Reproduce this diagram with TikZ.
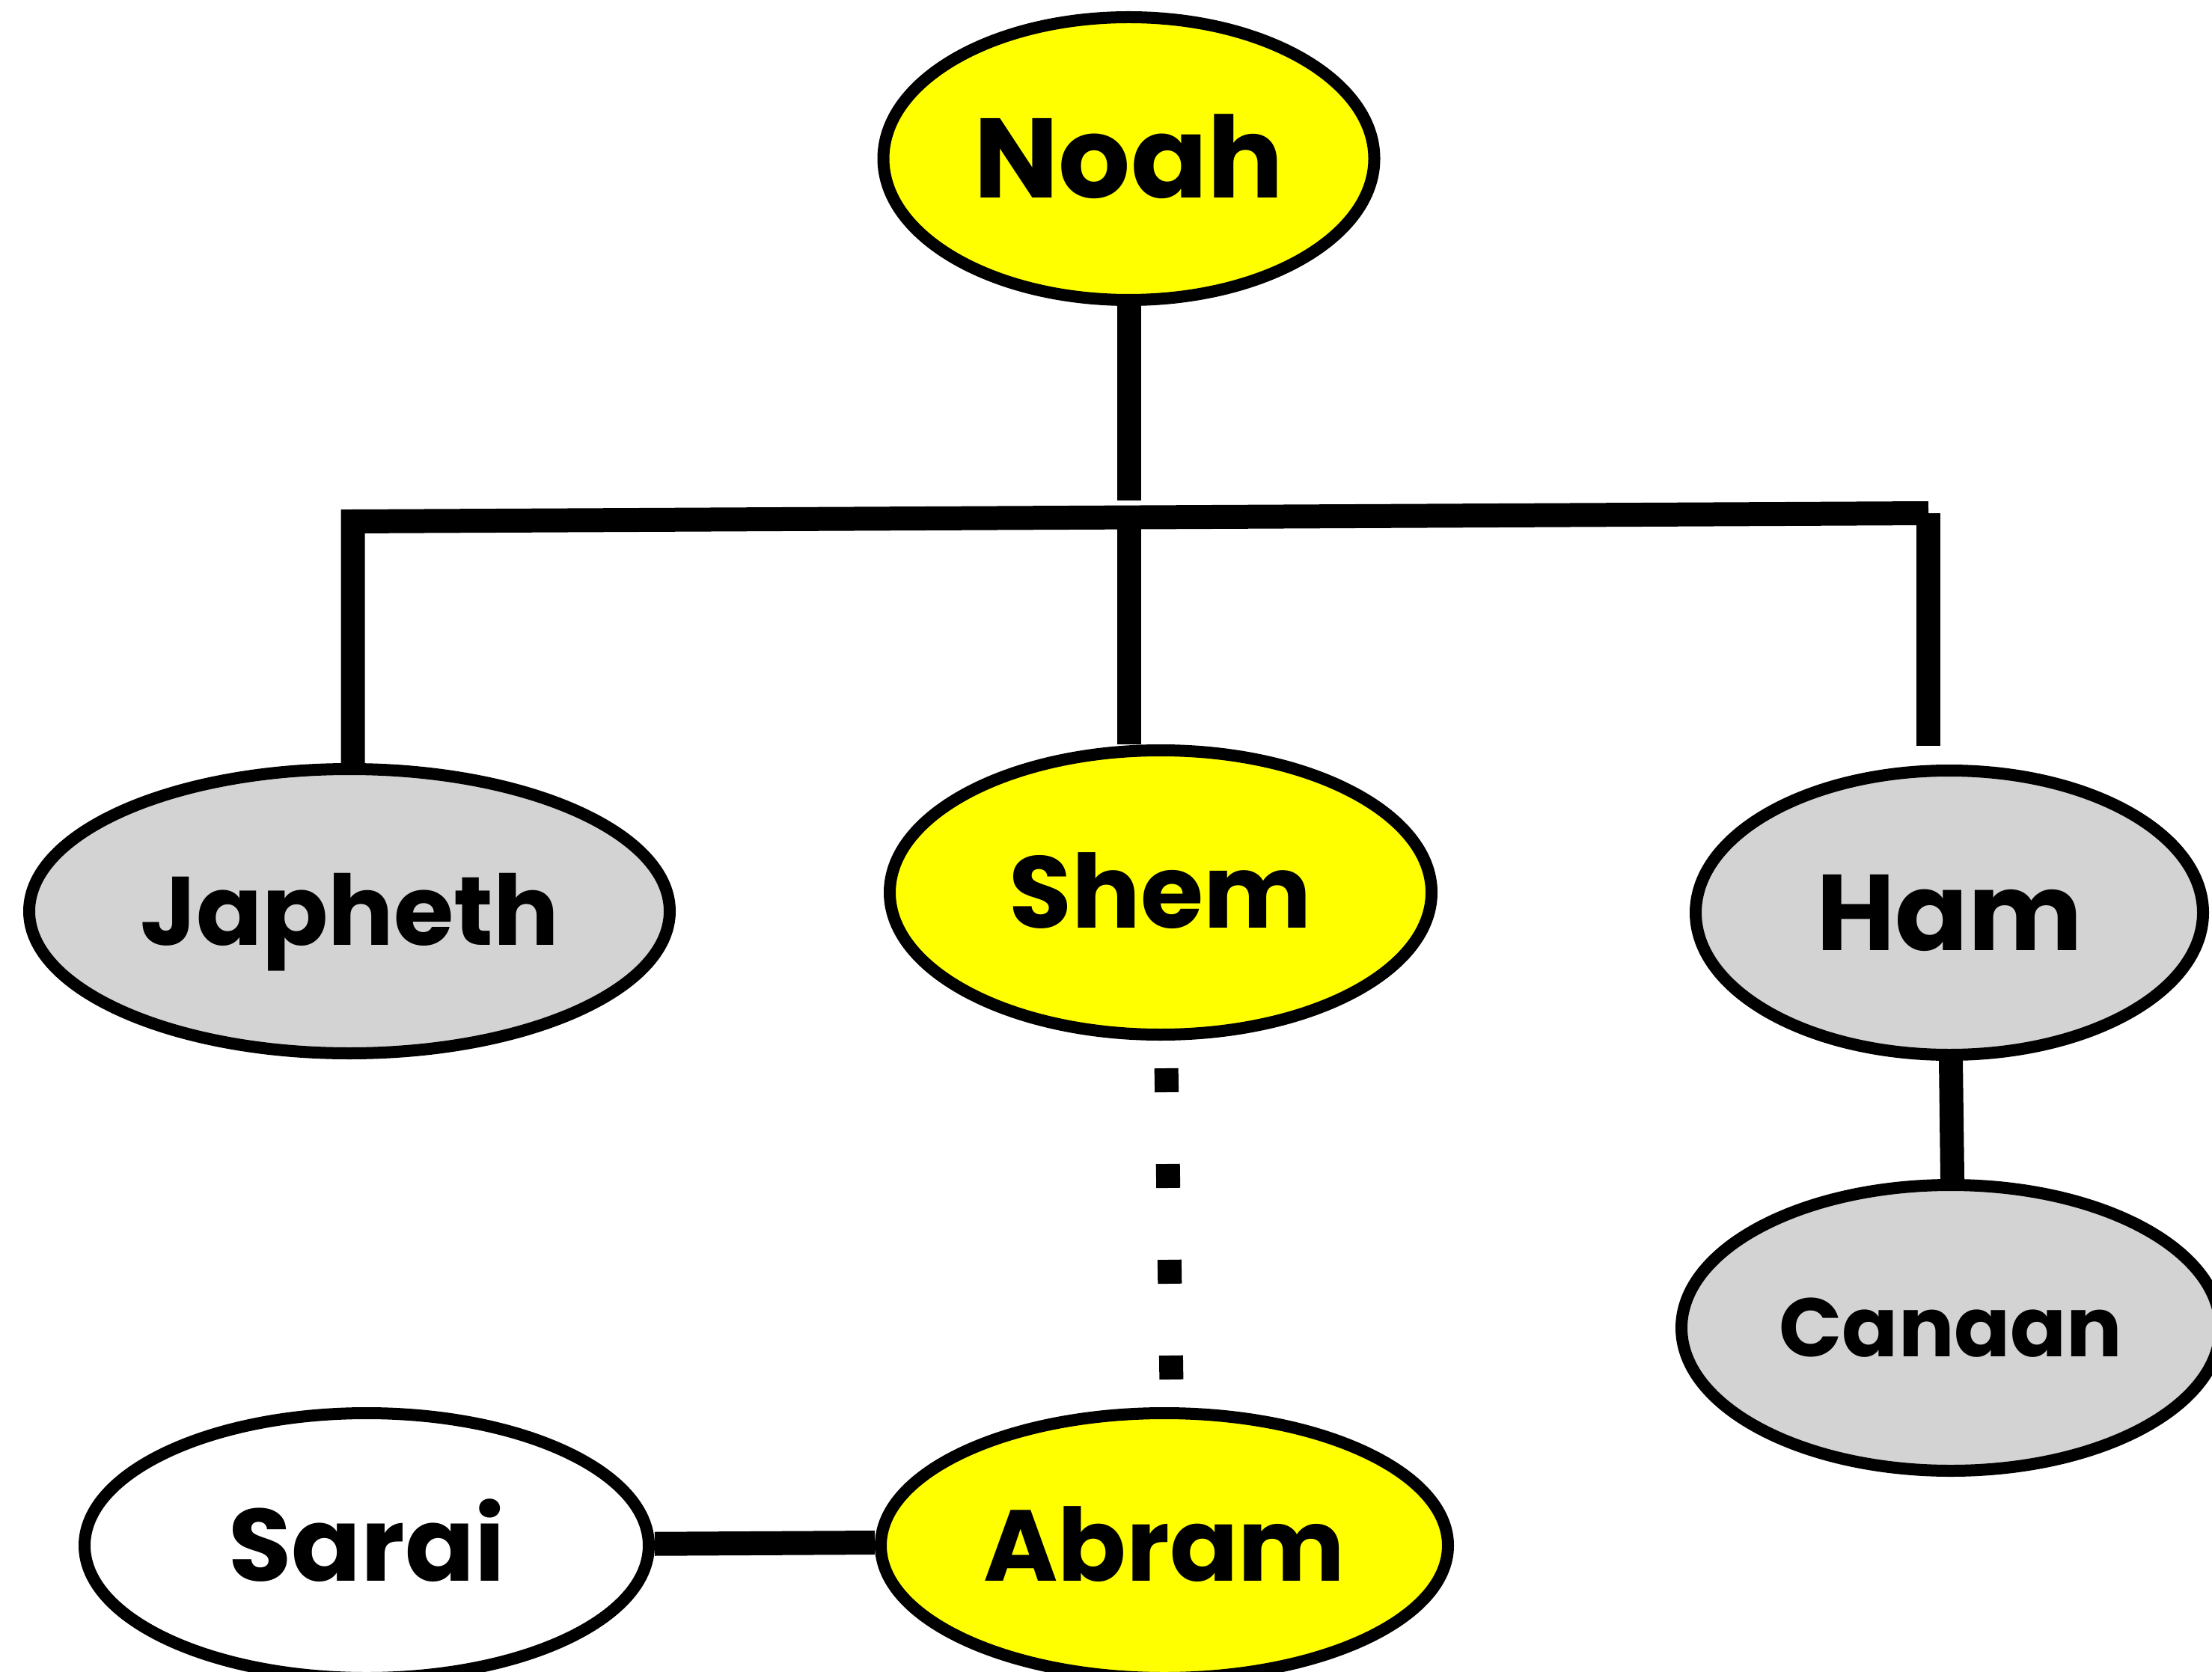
\documentclass[tikz,border=0pt]{standalone}
\usepackage{fontspec}
\setmainfont{Poppins}
\usetikzlibrary{shapes.geometric}
\definecolor{famgray}{HTML}{D3D3D3}
\definecolor{famyellow}{HTML}{FFFF00}
\begin{document}
\begin{tikzpicture}[
  person/.style = {ellipse, draw, line width = 0.16cm, inner sep = 0pt,
                   text height = {0.7*#1pt}, text depth = 0pt,
                   font = \bfseries\fontsize{#1}{#1}\selectfont},
  link/.style = {line width = 0.32cm}]
\useasboundingbox (0, 0) rectangle (29.56, -22.35);
\node[person = 43, fill = famyellow, minimum width = 6.56cm, minimum height = 3.78cm] (noah) at (15.085, -2.12) {Noah};
\node[person = 37, fill = famgray, minimum width = 8.56cm, minimum height = 3.80cm] (japheth) at (4.67, -12.18) {Japheth};
\node[person = 38.8, fill = famyellow, minimum width = 7.24cm, minimum height = 3.80cm] (shem) at (15.51, -11.93) {Shem};
\node[person = 41, fill = famgray, minimum width = 6.78cm, minimum height = 3.80cm] (ham) at (26.05, -12.20) {Ham};
\node[person = 31.5, fill = famgray, minimum width = 7.20cm, minimum height = 3.82cm] (canaan) at (26.07, -17.75) {Canaan};
\node[person = 39, fill = white, minimum width = 7.54cm, minimum height = 3.54cm] (sarai) at (4.90, -20.66) {Sarai};
\node[person = 38.4, fill = famyellow, minimum width = 7.58cm, minimum height = 3.54cm] (abram) at (15.56, -20.66) {Abram};
\coordinate (nbar) at (15.085, -6.69);
\coordinate (jbar) at (4.715, -6.97);
\coordinate (sbar) at (15.085, -6.915);
\coordinate (hbar) at (25.77, -6.86);
\coordinate (hend) at (25.77, -9.97);
\draw[link] (noah) -- (nbar);
\draw[link, line join = miter] (japheth.north -| jbar) -- (jbar) -- (hbar);
\draw[link] (sbar) -- (shem.north -| sbar);
\draw[link] (hbar) -- (hend);
\draw[link] ([xshift = 0.02cm]ham.south) -- ([xshift = 0.02cm]canaan.north);
\draw[link] (sarai) -- ([yshift = 0.04cm]abram.west);
\draw[link, dash pattern = on 0.32cm off 0.96cm, dash phase = 0.91cm] ([xshift = 0.07cm]shem.south) -- ([xshift = 0.1cm]abram.north);
\end{tikzpicture}
\end{document}
